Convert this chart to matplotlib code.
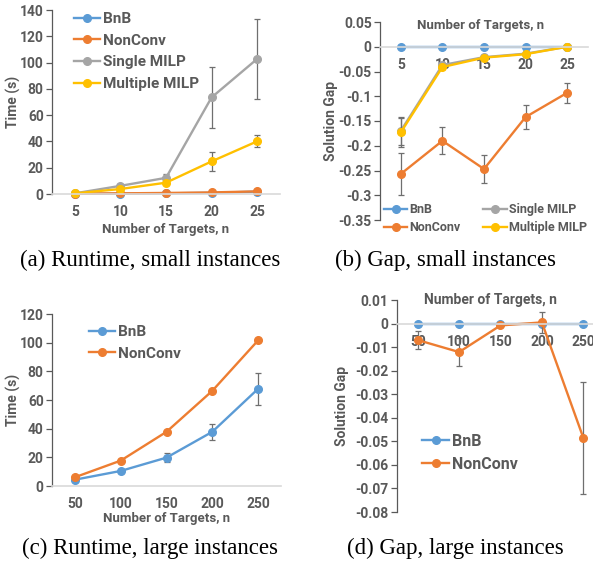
import matplotlib.pyplot as plt

W, H = 593, 564

small_n = ["5", "10", "15", "20", "25"]
large_n = ["50", "100", "150", "200", "250"]

# (a) runtime, small instances
time_small_bnb = [0.1, 0.3, 0.5, 0.9, 1.8]
time_small_nonconv = [0.3, 0.5, 0.8, 1.2, 2.0]
time_small_single = [0.5, 6.2, 12.3, 73.5, 102.8]
time_small_single_err = [0.1, 1.0, 2.8, 23.0, 30.2]
time_small_multiple = [0.5, 3.8, 8.6, 24.8, 40.1]
time_small_multiple_err = [0.1, 0.8, 1.0, 7.0, 4.7]

# (b) gap, small instances
gap_small_bnb = [0, 0, 0, 0, 0]
gap_small_nonconv = [-0.257, -0.190, -0.247, -0.142, -0.093]
gap_small_nonconv_err = [0.043, 0.027, 0.028, 0.025, 0.020]
gap_small_single = [-0.170, -0.037, -0.021, -0.014, 0.0]
gap_small_single_err = [0.029, 0.003, 0.004, 0.003, 0.0]
gap_small_multiple = [-0.173, -0.041, -0.022, -0.015, 0.0]
gap_small_multiple_err = [0.029, 0.003, 0.003, 0.003, 0.0]

# (c) runtime, large instances
time_large_bnb = [4.4, 10.5, 19.8, 37.8, 67.8]
time_large_bnb_err = [0.5, 0.8, 3.0, 5.8, 11.3]
time_large_nonconv = [6.1, 17.7, 37.8, 66.4, 101.6]

# (d) gap, large instances
gap_large_bnb = [0, 0, 0, 0, 0]
gap_large_nonconv = [-0.0070, -0.0121, -0.0008, 0.0005, -0.0485]
gap_large_nonconv_err = [0.0040, 0.0060, 0.0005, 0.0046, 0.0237]

BLUE, ORANGE, GRAY, YELLOW = "#5B9BD5", "#ED7D31", "#A5A5A5", "#FFC000"
TXT = "#595959"

plt.rcParams["font.family"] = "Roboto"
plt.rcParams["font.weight"] = "bold"

fig = plt.figure(figsize=(W / 100, H / 100), dpi=100)


def px_axes(left, top, right, bottom):
    return fig.add_axes([left / W, 1 - bottom / H, (right - left) / W, (bottom - top) / H])


def style(ax, labels, ylim, yticks, fmt, zero_axis=False):
    ax.set_xlim(-0.5, 4.5)
    ax.set_ylim(*ylim)
    ax.set_yticks(yticks)
    ax.set_yticklabels([fmt(v) for v in yticks], fontweight="bold")
    ax.set_xticks(range(5))
    ax.set_xticklabels(labels, fontweight="bold")
    for s in ("top", "right"):
        ax.spines[s].set_visible(False)
    ax.spines["left"].set_color(TXT)
    ax.spines["left"].set_linewidth(0.9)
    ax.spines["bottom"].set_color("#D9D9D9")
    ax.spines["bottom"].set_linewidth(1.2)
    if zero_axis:
        ax.spines["bottom"].set_position(("data", 0))
    ax.tick_params(axis="y", direction="out", length=4, width=0.9, color=TXT,
                   labelcolor=TXT, labelsize=10, pad=2)
    ax.tick_params(axis="x", length=0, labelcolor=TXT, labelsize=10, pad=8)
    ax.set_zorder(1)


def series(ax, y, color, err=None, label=None):
    x = list(range(len(y)))
    if err is not None:
        ax.errorbar(x, y, yerr=err, fmt="none", ecolor="#6F6F6F", elinewidth=0.9,
                    capsize=2.5, capthick=0.9, clip_on=False)
    ax.plot(x, y, "-o", color=color, lw=1.7, markersize=5.5, label=label, clip_on=False)


def legend(ax, x, y, size, **kw):
    leg = ax.legend(loc="upper left", bbox_to_anchor=(x / W, 1 - y / H),
                    bbox_transform=fig.transFigure, frameon=False, borderpad=0,
                    borderaxespad=0, handletextpad=0.2,
                    prop={"size": size, "weight": "bold"}, **kw)
    for t in leg.get_texts():
        t.set_color(TXT)
    return leg


lab = {"color": TXT, "fontsize": 10, "fontweight": "bold"}
xlab = {"color": TXT, "fontsize": 9.5, "fontweight": "bold"}

# (a)
ax = px_axes(52, 10, 280, 194)
style(ax, small_n, (0, 140), range(0, 141, 20), lambda v: f"{v}")
series(ax, time_small_bnb, BLUE, label="BnB")
series(ax, time_small_nonconv, ORANGE, label="NonConv")
series(ax, time_small_single, GRAY, time_small_single_err, label="Single MILP")
series(ax, time_small_multiple, YELLOW, time_small_multiple_err, label="Multiple MILP")
ax.set_xlabel("Number of Targets, n", **xlab)
ax.xaxis.set_label_coords(0.5, -0.16)
ax.set_ylabel("Time (s)", **lab)
ax.yaxis.set_label_coords(-0.136, 0.5)
legend(ax, 74, 12, 11, labelspacing=0.5, handlelength=1.7)

# (b)
ax = px_axes(380, 22, 588, 220)
gap_ticks = [0.05, 0, -0.05, -0.1, -0.15, -0.2, -0.25, -0.3, -0.35]
style(ax, small_n, (-0.35, 0.05), gap_ticks, lambda v: f"{v:g}", zero_axis=True)
series(ax, gap_small_bnb, BLUE, label="BnB")
series(ax, gap_small_nonconv, ORANGE, gap_small_nonconv_err, label="NonConv")
series(ax, gap_small_single, GRAY, gap_small_single_err, label="Single MILP")
series(ax, gap_small_multiple, YELLOW, gap_small_multiple_err, label="Multiple MILP")
ax.text(0.485, 0.98, "Number of Targets, n", transform=ax.transAxes, ha="center",
        va="center", **xlab)
ax.set_ylabel("Solution Gap", **lab)
ax.yaxis.set_label_coords(-0.2, 0.5)
legend(ax, 384, 203, 9, ncol=2, columnspacing=1.8, labelspacing=0.4, handlelength=1.85)

# (c)
ax = px_axes(52, 314, 281, 486)
style(ax, large_n, (0, 120), range(0, 121, 20), lambda v: f"{v}")
series(ax, time_large_bnb, BLUE, time_large_bnb_err, label="BnB")
series(ax, time_large_nonconv, ORANGE, label="NonConv")
ax.set_xlabel("Number of Targets, n", **xlab)
ax.xaxis.set_label_coords(0.5, -0.15)
ax.set_ylabel("Time (s)", **lab)
ax.yaxis.set_label_coords(-0.136, 0.5)
legend(ax, 89, 325, 11, labelspacing=0.5, handlelength=1.7)

# (d)
ax = px_axes(397, 300, 604, 512)
gap2_ticks = [0.01, 0, -0.01, -0.02, -0.03, -0.04, -0.05, -0.06, -0.07, -0.08]
style(ax, large_n, (-0.08, 0.01), gap2_ticks, lambda v: f"{v:g}", zero_axis=True)
series(ax, gap_large_bnb, BLUE, label="BnB")
series(ax, gap_large_nonconv, ORANGE, gap_large_nonconv_err, label="NonConv")
ax.text(0.45, 1.0, "Number of Targets, n", transform=ax.transAxes, ha="center",
        va="center", color=TXT, fontsize=10, fontweight="bold")
ax.set_ylabel("Solution Gap", **lab)
ax.yaxis.set_label_coords(-0.232, 0.5)
legend(ax, 422, 434, 11.5, labelspacing=0.5, handlelength=1.7)

cap = {"family": "Liberation Serif", "size": 16.5, "weight": "normal", "ha": "center", "va": "center"}
fig.text(150 / W, 1 - 260 / H, "(a) Runtime, small instances", **cap)
fig.text(445 / W, 1 - 260 / H, "(b) Gap, small instances", **cap)
fig.text(150 / W, 1 - 548 / H, "(c) Runtime, large instances", **cap)
fig.text(455 / W, 1 - 548 / H, "(d) Gap, large instances", **cap)

fig.savefig("out.png", dpi=100)
